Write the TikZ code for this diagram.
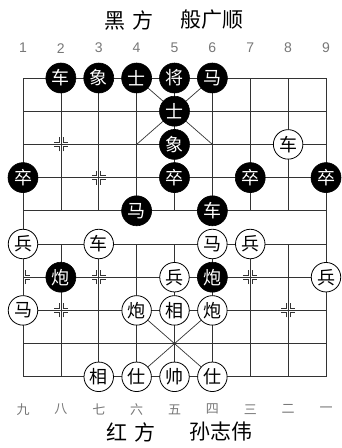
\documentclass[tikz,border=0pt]{standalone}
\usepackage{fontspec}
\newfontfamily\cjk{Noto Sans CJK SC}
\newfontfamily\lat{Liberation Sans}
\definecolor{lines}{HTML}{333333}
\definecolor{lbl}{HTML}{777777}
\tikzset{
  bp/.style={circle,draw=black,fill=black,text=white,line width=0.6pt,minimum size=30pt,inner sep=0pt,font=\cjk\fontsize{18}{18}\selectfont},
  rp/.style={circle,draw=black,fill=white,text=black,line width=0.8pt,minimum size=29.5pt,inner sep=0pt,font=\cjk\fontsize{18}{18}\selectfont},
  gridline/.style={draw=lines,line width=0.7pt},
  posmark/.style={draw=lines,line width=0.6pt},
  title/.style={inner sep=0pt,font=\cjk\fontsize{21}{21}\selectfont},
  numlbl/.style={inner sep=0pt,text=lbl,font=\lat\fontsize{14}{14}\selectfont},
  cnlbl/.style={inner sep=0pt,text=lbl,font=\cjk\fontsize{13}{13}\selectfont}
}
\newcommand\mkfull[2]{%
  \draw[posmark] (#1,#2) ++(2pt,-7pt) -- ++(0,5pt) -- ++(5pt,0);
  \draw[posmark] (#1,#2) ++(2pt,7pt) -- ++(0,-5pt) -- ++(5pt,0);
  \draw[posmark] (#1,#2) ++(-2pt,-7pt) -- ++(0,5pt) -- ++(-5pt,0);
  \draw[posmark] (#1,#2) ++(-2pt,7pt) -- ++(0,-5pt) -- ++(-5pt,0);}
\newcommand\mkright[2]{%
  \draw[posmark] (#1,#2) ++(2pt,-7pt) -- ++(0,5pt) -- ++(5pt,0);
  \draw[posmark] (#1,#2) ++(2pt,7pt) -- ++(0,-5pt) -- ++(5pt,0);}
\begin{document}
\begin{tikzpicture}[x=1pt,y=-1pt]
\useasboundingbox (0,0) rectangle (342,448);
% titles
\node[title] (t1) at (129,20) {黑\hspace{8pt}方};
\node[title] (t2) at (212,20) {般广顺};
\node[title] (t3) at (131,432) {红\hspace{8pt}方};
\node[title] (t4) at (221,432) {孙志伟};
\begin{scope}[shift={(23pt,-78pt)},x=37.875pt,y=-33.2pt]
% column labels
\foreach \i/\t in {0/1,1/2,2/3,3/4,4/5,5/6,6/7,7/8,8/9}
  \node[numlbl] (n\t) at (\i,-0.9) {\t};
\foreach \i/\t [count=\k] in {0/九,1/八,2/七,3/六,4/五,5/四,6/三,7/二,8/一}
  \node[cnlbl] (c\k) at (\i,9.98) {\t};
% grid
\foreach \r in {0,...,9} \draw[gridline] (0,\r) -- (8,\r);
\draw[gridline] (0,0) -- (0,9);
\draw[gridline] (8,0) -- (8,9);
\foreach \c in {1,...,7} {\draw[gridline] (\c,0) -- (\c,4); \draw[gridline] (\c,5) -- (\c,9);}
\draw[gridline] (3,0) -- (5,2); \draw[gridline] (5,0) -- (3,2);
\draw[gridline] (3,7) -- (5,9); \draw[gridline] (5,7) -- (3,9);
% markers
\mkfull{1}{2}
\mkfull{2}{3}
\mkright{0}{6}
\mkfull{2}{6}
\mkfull{6}{6}
\mkfull{1}{7}
\mkfull{7}{7}
% black pieces
\node[bp] (bR1) at (1,0) {车};
\node[bp] (bE1) at (2,0) {象};
\node[bp] (bA1) at (3,0) {士};
\node[bp] (bK) at (4,0) {将};
\node[bp] (bH1) at (5,0) {马};
\node[bp] (bA2) at (4,1) {士};
\node[bp] (bE2) at (4,2) {象};
\node[bp] (bP1) at (0,3) {卒};
\node[bp] (bP2) at (4,3) {卒};
\node[bp] (bP3) at (6,3) {卒};
\node[bp] (bP4) at (8,3) {卒};
\node[bp] (bH2) at (3,4) {马};
\node[bp] (bR2) at (5,4) {车};
\node[bp] (bC1) at (1,6) {炮};
\node[bp] (bC2) at (5,6) {炮};
% red pieces
\node[rp] (rR1) at (7,2) {车};
\node[rp] (rP1) at (0,5) {兵};
\node[rp] (rR2) at (2,5) {车};
\node[rp] (rH1) at (5,5) {马};
\node[rp] (rP2) at (6,5) {兵};
\node[rp] (rP3) at (4,6) {兵};
\node[rp] (rP4) at (8,6) {兵};
\node[rp] (rH2) at (0,7) {马};
\node[rp] (rC1) at (3,7) {炮};
\node[rp] (rE1) at (4,7) {相};
\node[rp] (rC2) at (5,7) {炮};
\node[rp] (rE2) at (2,9) {相};
\node[rp] (rA1) at (3,9) {仕};
\node[rp] (rK) at (4,9) {帅};
\node[rp] (rA2) at (5,9) {仕};
\end{scope}
\end{tikzpicture}
\end{document}
